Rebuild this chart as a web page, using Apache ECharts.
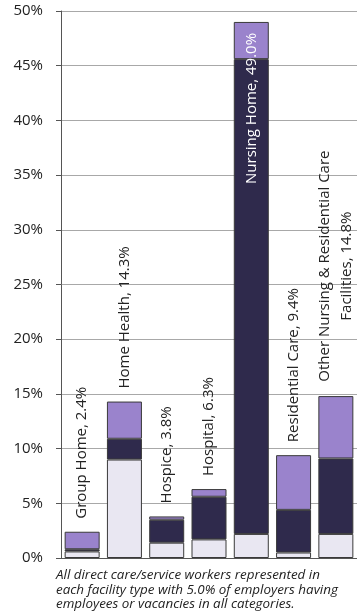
<!DOCTYPE html>
<html>
<head>
<meta charset="utf-8">
<script src="https://cdn.jsdelivr.net/npm/echarts@6/dist/echarts.min.js"></script>
<style>
html,body{margin:0;padding:0;background:#fff;}
#c{width:357px;height:613px;}
</style>
</head>
<body>
<div id="c"></div>
<script>
const categories = ['Group Home','Home Health','Hospice','Hospital','Nursing Home','Residential Care','Other Nursing & Residential Care\nFacilities'];
const totals = [2.4, 14.3, 3.8, 6.3, 49.0, 9.4, 14.8];
const lightPart = [0.6, 9.0, 1.4, 1.7, 2.2, 0.5, 2.2];
const darkPart = [0.2, 1.9, 2.1, 3.9, 43.4, 3.9, 6.9];
const purplePart = [1.6, 3.4, 0.3, 0.7, 3.4, 5.0, 5.7];
const yTicks = [0, 5, 10, 15, 20, 25, 30, 35, 40, 45, 50];
const footnote = ['All direct care/service workers represented in', 'each facility type with 5.0% of employers having', 'employees or vacancies in all categories.'];

const FONT = 'Open Sans';
const chart = echarts.init(document.getElementById('c'));

const topData = purplePart.map((v, i) => {
  const txt = categories[i] + ', ' + totals[i].toFixed(1) + '%';
  const item = { value: v };
  if (i === 4) {
    item.label = { show: true, position: 'insideTop', distance: 11, rotate: 90, align: 'right', verticalAlign: 'middle', color: '#fff', formatter: txt };
  } else if (categories[i].indexOf('\n') >= 0) {
    const lines = txt.split('\n');
    item.label = { show: true, position: 'top', distance: 13, rotate: 90, align: 'left', verticalAlign: 'middle',
      formatter: lines.map(l => '{a|' + l + '}').join('\n'),
      rich: { a: { width: 234, align: 'center', fontFamily: FONT, fontSize: 15, color: '#222', lineHeight: 22 } } };
  } else {
    item.label = { show: true, position: 'top', distance: 13, rotate: 90, align: 'left', verticalAlign: 'middle', formatter: txt };
  }
  return item;
});

const barBase = { type: 'bar', stack: 'total', barWidth: 35, itemStyle: { borderColor: '#3a3a3a', borderWidth: 1 } };

chart.setOption({
  animation: false,
  backgroundColor: '#ffffff',
  title: {
    text: footnote.join('\n'),
    left: 51, top: 563,
    textStyle: { fontFamily: FONT, fontStyle: 'italic', fontWeight: 'normal', fontSize: 13.4, lineHeight: 14.5, color: '#222' }
  },
  grid: { left: 61, width: 299, top: 11, bottom: 55, containLabel: false },
  xAxis: {
    type: 'category', data: categories,
    axisLine: { show: true, lineStyle: { color: '#555', width: 1 } },
    axisTick: { show: false },
    axisLabel: { show: false },
    splitLine: { show: false }
  },
  yAxis: {
    type: 'value', min: yTicks[0], max: yTicks[yTicks.length - 1], interval: yTicks[1] - yTicks[0],
    axisLine: { show: true, lineStyle: { color: '#555', width: 1 } },
    axisTick: { show: true, length: 5, lineStyle: { color: '#555' } },
    axisLabel: { formatter: '{value}%', fontFamily: FONT, fontSize: 15, color: '#222', margin: 18 },
    splitLine: { show: true, lineStyle: { color: '#a8a8a8', width: 1 } }
  },
  series: [
    Object.assign({}, barBase, { name: 'light', data: lightPart, itemStyle: Object.assign({}, barBase.itemStyle, { color: '#e9e7f2' }) }),
    Object.assign({}, barBase, { name: 'dark', data: darkPart, itemStyle: Object.assign({}, barBase.itemStyle, { color: '#2f2a4c' }) }),
    Object.assign({}, barBase, { name: 'purple', data: topData, itemStyle: Object.assign({}, barBase.itemStyle, { color: '#9a83cc' }),
      label: { show: true, fontFamily: FONT, fontSize: 15, color: '#222' } })
  ]
});
</script>
</body>
</html>
